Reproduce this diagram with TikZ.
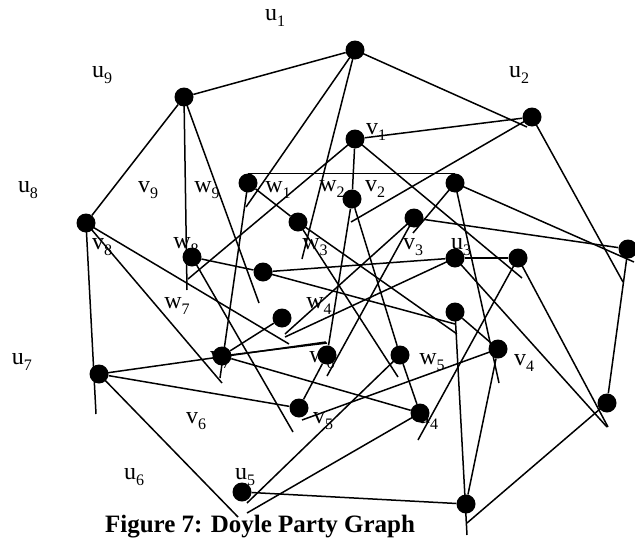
\documentclass[tikz,border=0pt]{standalone}
\usepackage{fontspec}
\setmainfont{Liberation Serif}
\pgfdeclarelayer{bg}
\pgfsetlayers{bg,main}
\newcommand\lb[2]{#1\raisebox{-0.28em}{\fontsize{16}{16}\selectfont #2}}
\begin{document}
\begin{tikzpicture}[x=1pt,y=-1pt,
  dot/.style={circle,fill=black,inner sep=0pt,minimum size=19pt},
  edge/.style={line width=1.5pt},
  lab/.style={font=\fontsize{24}{24}\selectfont,inner sep=0pt}]
\useasboundingbox (0,0) rectangle (635,541);
% vertices
\node[dot] (A) at (355,50) {};
\node[dot] (B) at (184,97) {};
\node[dot] (C) at (532,117) {};
\node[dot] (D) at (355,139) {};
\node[dot] (E) at (248,183) {};
\node[dot] (F) at (352,199) {};
\node[dot] (G) at (455,183) {};
\node[dot] (H) at (298,222) {};
\node[dot] (I) at (414,218) {};
\node[dot] (J) at (86,223) {};
\node[dot] (K) at (192,257) {};
\node[dot] (L) at (263,272) {};
\node[dot] (M) at (455,258) {};
\node[dot] (N) at (518,258) {};
\node[dot] (O) at (628,249) {};
\node[dot] (P) at (282,318) {};
\node[dot] (Q) at (455,312) {};
\node[dot] (R) at (222,356) {};
\node[dot] (S) at (327,355) {};
\node[dot] (T) at (400,355) {};
\node[dot] (U) at (498,349) {};
\node[dot] (V) at (99,374) {};
\node[dot] (W) at (299,408) {};
\node[dot] (X) at (420,413) {};
\node[dot] (Y) at (607,403) {};
\node[dot] (Z) at (242,492) {};
\node[dot] (BB) at (466,504) {};
% free ends
\coordinate (b3) at (187,290);
\coordinate (b4) at (259,303);
\coordinate (a2) at (527,127);
\coordinate (a3) at (246,207);
\coordinate (a4) at (302,259);
\coordinate (c2) at (351,222);
\coordinate (c3) at (623,282);
\coordinate (d1) at (188,279);
\coordinate (d3) at (522,278);
\coordinate (g2) at (634,262);
\coordinate (g3) at (413,233);
\coordinate (g4) at (499,383);
\coordinate (i2) at (285,334);
\coordinate (i3) at (327,376);
\coordinate (k2) at (293,432);
\coordinate (l3) at (455,324);
\coordinate (e3) at (220,378);
\coordinate (j2) at (289,344);
\coordinate (j3) at (222,383);
\coordinate (j4) at (96,414);
\coordinate (m3) at (285,337);
\coordinate (r2) at (327,343);
\coordinate (v2) at (326,342);
\coordinate (h2) at (457,334);
\coordinate (h3) at (398,377);
\coordinate (m4) at (607,427);
\coordinate (n2) at (608,427);
\coordinate (y2) at (467,523);
\coordinate (n3) at (418,440);
\coordinate (u2) at (302,420);
\coordinate (t2) at (247,503);
\coordinate (x2) at (247,513);
\coordinate (v3) at (238,517);
\coordinate (q3) at (467,535);
\begin{pgfonlayer}{bg}
% labels
\node[lab] (lu1) at (275,18) {\lb{u}{1}};
\node[lab] (lu9) at (102,75) {\lb{u}{9}};
\node[lab] (lu2) at (519,75) {\lb{u}{2}};
\node[lab] (lv1) at (376,132) {\lb{v}{1}};
\node[lab] (lu8) at (28,190) {\lb{u}{8}};
\node[lab] (lv9) at (148,190) {\lb{v}{9}};
\node[lab] (lw9) at (207,190) {\lb{w}{9}};
\node[lab] (lw1) at (278,190) {\lb{w}{1}};
\node[lab] (lw2) at (332,189) {\lb{w}{2}};
\node[lab] (lv2) at (375,189) {\lb{v}{2}};
\node[lab] (lv8) at (102,247) {\lb{v}{8}};
\node[lab] (lw8) at (186,246) {\lb{w}{8}};
\node[lab] (lw3) at (315,247) {\lb{w}{3}};
\node[lab] (lv3) at (413,247) {\lb{v}{3}};
\node[lab] (lu3) at (461,247) {\lb{u}{3}};
\node[lab] (lw7) at (177,306) {\lb{w}{7}};
\node[lab] (lw4) at (319,306) {\lb{w}{4}};
\node[lab] (lu7) at (22,362) {\lb{u}{7}};
\node[lab] (lv7) at (220,360) {\lb{v}{7}};
\node[lab] (lw6) at (322,360) {\lb{w}{6}};
\node[lab] (lw5) at (432,362) {\lb{w}{5}};
\node[lab] (lv4) at (524,363) {\lb{v}{4}};
\node[lab] (lv6) at (196,421) {\lb{v}{6}};
\node[lab] (lv5) at (323,421) {\lb{v}{5}};
\node[lab] (lu4) at (428,421) {\lb{u}{4}};
\node[lab] (lu6) at (134,477) {\lb{u}{6}};
\node[lab] (lu5) at (245,477) {\lb{u}{5}};
\node[font=\bfseries\fontsize{25}{25}\selectfont,inner sep=0pt,anchor=base] (cap) at (260,532) {Figure 7: Doyle Party Graph};
% edges
\draw[edge] (B) -- (A);
\draw[edge] (B) -- (J);
\draw[edge] (B.center) -- (b3);
\draw[edge] (B.center) -- (b4);
\draw[edge] (A.center) -- (a2);
\draw[edge] (A.center) -- (a3);
\draw[edge] (A.center) -- (a4);
\draw[edge] (D) -- (C);
\draw[edge] (C.center) -- (c2);
\draw[edge] (C.center) -- (c3);
\draw[edge] (D.center) -- (d1);
\draw[edge] (D) -- (F);
\draw[edge] (D.center) -- (d3);
\draw[edge] (E.north) -- (G.north);
\draw[edge] (G.center) -- (g2);
\draw[edge] (G.center) -- (g3);
\draw[edge] (G.center) -- (g4);
\draw[edge] (I) -- (O);
\draw[edge] (I.center) -- (i2);
\draw[edge] (I.center) -- (i3);
\draw[edge] (K) -- (L);
\draw[edge] (K.center) -- (k2);
\draw[edge] (L) -- (M);
\draw[edge] (L.center) -- (l3);
\draw[edge] (E.center) -- (e3);
\draw[edge] (J.center) -- (j2);
\draw[edge] (J.center) -- (j3);
\draw[edge] (J.center) -- (j4);
\draw[edge] (P) -- (R);
\draw[edge] (M.center) -- (m3);
\draw[edge] (F) -- (S);
\draw[edge] (F) -- (T);
\draw[edge] (R.center) -- (r2);
\draw[edge] (R) -- (X);
\draw[edge] (V) -- (W);
\draw[edge] (V.center) -- (v2);
\draw[edge] (S) -- (W);
\draw[edge] (H.center) -- (h2);
\draw[edge] (H.center) -- (h3);
\draw[edge] (Q.center) -- (q3);
\draw[edge] (Q) -- (U);
\draw[edge] (M) -- (N);
\draw[edge] (M.center) -- (m4);
\draw[edge] (N.center) -- (n2);
\draw[edge] (N.center) -- (n3);
\draw[edge] (O) -- (Y);
\draw[edge] (Y.center) -- (y2);
\draw[edge] (U.center) -- (u2);
\draw[edge] (U) -- (BB);
\draw[edge] (T) -- (X);
\draw[edge] (T.center) -- (t2);
\draw[edge] (X.center) -- (x2);
\draw[edge] (Z) -- (BB);
\draw[edge] (V.center) -- (v3);
\draw[edge] (E) -- (H);
\end{pgfonlayer}
\end{tikzpicture}
\end{document}
